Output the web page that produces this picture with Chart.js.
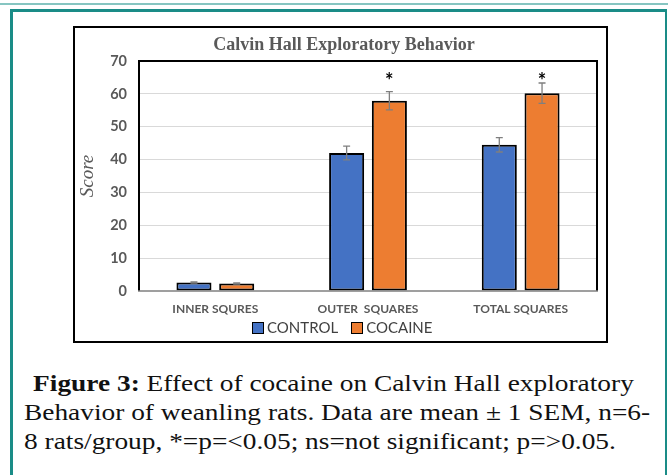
<!DOCTYPE html>
<html>
<head>
<meta charset="utf-8">
<script src="https://cdn.jsdelivr.net/npm/chart.js@4"></script>
<style>
  body { margin: 0; width: 668px; height: 475px; overflow: hidden; background: #fff; position: relative; }
  #topline { position: absolute; left: 0; top: 3px; width: 668px; height: 2px; background: #86c5c1; }
  #frame { position: absolute; left: 10px; top: 9px; width: 657px; height: 480px; box-sizing: border-box;
           border-left: 3px solid #1a8c87; border-top: 3px solid #1a8c87; border-right: 2px solid #1a8c87; }
  #box { position: absolute; left: 73px; top: 26px; width: 535px; height: 317px; box-sizing: border-box; border: 2px solid #000; }
  #box canvas { position: absolute; left: 0; top: 0; }
  #title { position: absolute; left: 0; top: 6px; width: 531px; padding-left: 7px; box-sizing: border-box; text-align: center;
           font: bold 18px "Liberation Serif", serif; color: #595959; }
  #legend { position: absolute; left: 177px; top: 290px; font: 15px Lato, sans-serif; color: #404040; white-space: nowrap; }
  #legend span.sw { display: inline-block; width: 10px; height: 10px; border: 1px solid #000; vertical-align: -1px; margin-right: 3px; }
  #legend span.it { margin-right: 13px; }
  #caption { position: absolute; left: 24px; top: 369px; width: 560px; font: 24px "Liberation Serif", serif; line-height: 29px; color: #111;
             transform: scaleX(1.14); transform-origin: 0 0; }
  #caption div { white-space: nowrap; }
  #caption .l1 { padding-left: 8px; }
</style>
</head>
<body>
<div id="topline"></div>
<div id="frame"></div>
<div id="box">
  <canvas id="chart" width="531" height="313"></canvas>
  <div id="title">Calvin Hall Exploratory Behavior</div>
  <div id="legend"><span class="it"><span class="sw" style="background:#4472c4"></span>CONTROL</span><span><span class="sw" style="background:#ed7d31"></span>COCAINE</span></div>
</div>
<div id="caption">
  <div class="l1"><b>Figure 3:</b> Effect of cocaine on Calvin Hall exploratory</div>
  <div>Behavior of weanling rats. Data are mean ± 1 SEM, n=6-</div>
  <div>8 rats/group, *=p=&lt;0.05; ns=not significant; p=&gt;0.05.</div>
</div>

<script>
const categories = ['INNER SQURES', 'OUTER  SQUARES', 'TOTAL SQUARES'];
const controlMeans = [2.6, 42.0, 44.5];
const controlSem = [0.2, 2.1, 2.2];
const cocaineMeans = [2.3, 57.9, 60.2];
const cocaineSem = [0.2, 2.8, 3.1];
const sigMarks = ['', '*', '*'];
const sigLevel = 65.2;
const yTicks = [0, 10, 20, 30, 40, 50, 60, 70];

const semByDataset = [controlSem, cocaineSem];

// barres d'erreur + astérisques
const errorBars = {
  id: 'errorBars',
  afterDatasetsDraw(chart) {
    const ctx = chart.ctx;
    const y = chart.scales.y;
    ctx.save();
    ctx.strokeStyle = '#7f7f7f';
    ctx.lineWidth = 1.3;
    chart.data.datasets.forEach((ds, i) => {
      chart.getDatasetMeta(i).data.forEach((bar, j) => {
        const v = ds.data[j], e = semByDataset[i][j];
        const top = y.getPixelForValue(v + e), bot = y.getPixelForValue(v - e);
        ctx.beginPath();
        ctx.moveTo(bar.x, top); ctx.lineTo(bar.x, bot);
        ctx.moveTo(bar.x - 3.5, top); ctx.lineTo(bar.x + 3.5, top);
        ctx.moveTo(bar.x - 3.5, bot); ctx.lineTo(bar.x + 3.5, bot);
        ctx.stroke();
      });
    });
    // astérisques au-dessus de COCAINE
    ctx.fillStyle = '#000';
    ctx.font = 'bold 20px Lato, sans-serif';
    ctx.textAlign = 'center';
    ctx.textBaseline = 'middle';
    chart.getDatasetMeta(1).data.forEach((bar, j) => {
      if (sigMarks[j]) ctx.fillText(sigMarks[j], bar.x, y.getPixelForValue(sigLevel) + 5);
    });
    ctx.restore();
  }
};

// cadre de la zone de tracé
const plotFrame = {
  id: 'plotFrame',
  afterDraw(chart) {
    const { left, right, top, bottom } = chart.chartArea;
    const ctx = chart.ctx;
    ctx.save();
    ctx.strokeStyle = '#000';
    ctx.lineWidth = 2;
    ctx.beginPath();
    ctx.moveTo(left, bottom); ctx.lineTo(left, top); ctx.lineTo(right, top); ctx.lineTo(right, bottom);
    ctx.stroke();
    ctx.strokeStyle = '#7f7f7f';
    ctx.lineWidth = 1.5;
    ctx.beginPath();
    ctx.moveTo(left - 1, bottom); ctx.lineTo(right + 1, bottom);
    ctx.stroke();
    ctx.restore();
  }
};

new Chart(document.getElementById('chart'), {
  type: 'bar',
  data: {
    labels: categories,
    datasets: [
      { label: 'CONTROL', data: controlMeans, backgroundColor: '#4472c4', borderColor: '#000', borderWidth: 2, borderSkipped: false },
      { label: 'COCAINE', data: cocaineMeans, backgroundColor: '#ed7d31', borderColor: '#000', borderWidth: 2, borderSkipped: false }
    ]
  },
  options: {
    responsive: false,
    animation: false,
    categoryPercentage: 0.56,
    barPercentage: 0.82,
    layout: { padding: { top: 33, right: 9, left: 0, bottom: 0 } },
    plugins: { legend: { display: false }, title: { display: false }, tooltip: { enabled: false } },
    scales: {
      x: {
        grid: { display: false },
        border: { display: false },
        ticks: { color: '#595959', font: { family: 'Lato', weight: 'bold', size: 12 }, padding: 3, maxRotation: 0 },
        afterFit: s => { s.height = 50; }
      },
      y: {
        min: 0, max: 70,
        afterBuildTicks: s => { s.ticks = yTicks.map(v => ({ value: v })); },
        grid: { color: ctx => (ctx.tick.value === 0 || ctx.tick.value === 70) ? 'rgba(0,0,0,0)' : '#d9d9d9', drawTicks: false, lineWidth: 1 },
        border: { display: false },
        ticks: { color: '#595959', font: { family: 'Lato', weight: 'bold', size: 14.5 }, padding: 12 },
        title: { display: true, text: 'Score', color: '#595959', font: { family: 'Liberation Serif', style: 'italic', size: 19 }, padding: { top: 2, bottom: 0 } },
        afterFit: s => { s.width = 64; }
      }
    }
  },
  plugins: [errorBars, plotFrame]
});
</script>
</body>
</html>
